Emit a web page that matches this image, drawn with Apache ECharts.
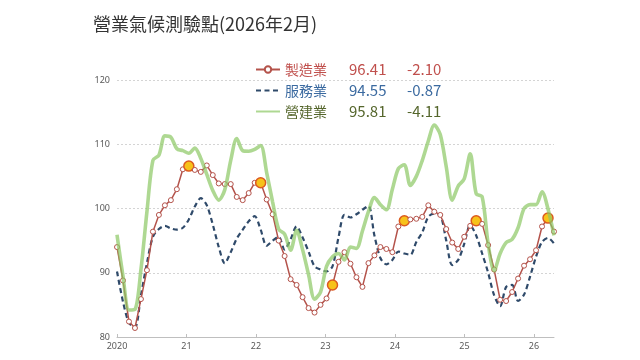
<!DOCTYPE html>
<html><head><meta charset="utf-8">
<script src="https://cdn.jsdelivr.net/npm/echarts@6/dist/echarts.min.js"></script>
<style>html,body{margin:0;padding:0;background:#fff}#c{width:640px;height:360px}</style>
</head><body><div id="c"></div>
<script>
const titleText = '營業氣候測驗點(2026年2月)';
const seriesNames = ['製造業', '服務業', '營建業'];
const latestValues = ['96.41', '94.55', '95.81'];
const monthlyChanges = ['-2.10', '-0.87', '-4.11'];
const yearLabels = ['2020', '21', '22', '23', '24', '25', '26'];
const yTicks = [80, 90, 100, 110, 120];
// monthly, Jan 2020 .. Feb 2026
const manufacturing = [
  94.0, 88.8, 82.4, 81.4, 85.9, 90.4, 96.4, 99.0, 100.5, 101.3, 103.0, 106.1,
  106.6, 106.0, 105.7, 106.7, 105.2, 103.9, 103.8, 103.8, 101.8, 101.3, 102.4, 104.0,
  104.0, 101.4, 99.1, 95.0, 92.6, 89.0, 88.1, 86.2, 84.5, 83.8, 85.0, 86.0,
  88.1, 91.7, 93.2, 91.4, 89.3, 87.8, 91.5, 92.7, 94.0, 93.7, 93.2, 97.2,
  98.1, 98.3, 98.4, 98.7, 100.5, 99.5, 99.0, 96.8, 94.7, 93.7, 95.6, 97.3,
  98.1, 97.6, 94.3, 90.5, 85.8, 85.6, 87.0, 89.1, 91.1, 92.1, 93.5, 97.2,
  98.51, 96.41
];
const services = [
  90.2, 85.5, 82.2, 81.5, 86.5, 91.5, 95.6, 96.8, 97.3, 96.9, 96.7, 97.0,
  98.3, 100.3, 101.6, 100.5, 97.5, 94.0, 91.5, 93.2, 95.3, 96.7, 98.0, 98.8,
  96.7, 94.2, 95.0, 95.6, 93.6, 95.2, 97.2, 95.5, 93.3, 91.0, 90.5, 90.2,
  91.0, 95.5, 99.0, 98.6, 99.1, 99.8, 100.4, 95.8, 92.3, 91.3, 92.0, 93.3,
  93.0, 92.8, 94.8, 96.3, 98.7, 99.2, 99.0, 95.0, 91.2, 92.0, 94.5, 97.4,
  95.8, 93.0, 90.0, 86.5, 84.8, 87.8, 88.1, 85.6, 86.6, 89.4, 92.5, 94.8,
  95.42, 94.55
];
const construction = [
  95.9, 89.5, 84.2, 84.3, 90.5, 99.5, 107.5, 108.3, 111.3, 111.1, 109.3, 109.0,
  108.6, 109.4, 107.8, 105.3, 102.8, 101.3, 102.9, 107.5, 110.9, 109.0, 108.9, 109.2,
  109.8, 105.6, 101.0, 96.8, 96.0, 93.5, 96.6, 93.6, 89.7, 85.9, 87.0, 91.0,
  92.5, 93.0, 92.0, 94.0, 93.8, 96.5, 99.5, 101.7, 100.6, 99.8, 103.0, 106.2,
  106.8, 103.6, 105.0, 107.5, 110.5, 113.0, 111.5, 106.5, 101.3, 103.5, 104.6, 108.5,
  102.3, 101.8, 94.5, 90.3, 93.0, 94.7, 95.2, 97.0, 100.0, 100.6, 100.6, 102.6,
  99.92, 95.81
];
const highlightMonths = [12, 24, 36, 48, 60, 72];

const cjk = '"Noto Sans CJK TC", "Noto Sans", sans-serif';
const txtColors = ['#c0504d', '#3b6aa0', '#55662c'];
const rich = {};
seriesNames.forEach((n, k) => {
  rich['n' + k] = { color: txtColors[k], width: 64, fontSize: 14, fontFamily: cjk, lineHeight: 14 };
  rich['v' + k] = { color: txtColors[k], width: 58, fontSize: 15, fontFamily: cjk, lineHeight: 14 };
  rich['c' + k] = { color: txtColors[k], fontSize: 15, fontFamily: cjk, lineHeight: 14 };
});

const redData = manufacturing.map((v, i) => highlightMonths.includes(i)
  ? { value: [i, v], symbolSize: 10, itemStyle: { color: '#f7c21a', borderColor: '#dc5a20', borderWidth: 1.5 } }
  : [i, v]);

const chart = echarts.init(document.getElementById('c'), null, { renderer: 'canvas' });
chart.setOption({
  animation: false,
  backgroundColor: '#fff',
  title: {
    text: titleText, left: 88, top: 10,
    textStyle: { fontSize: 18, fontWeight: 'normal', color: '#333', fontFamily: cjk }
  },
  legend: {
    orient: 'vertical', left: 250, top: 57, itemWidth: 24, itemHeight: 8, itemGap: 6,
    data: [
      { name: seriesNames[0] },
      { name: seriesNames[1], itemStyle: { opacity: 0 } },
      { name: seriesNames[2], itemStyle: { opacity: 0 } }
    ],
    formatter: name => {
      const k = seriesNames.indexOf(name);
      return `{n${k}|${name}}{v${k}|${latestValues[k]}}{c${k}|${monthlyChanges[k]}}`;
    },
    textStyle: { rich }
  },
  grid: { left: 117, right: 86, top: 80, bottom: 23 },
  xAxis: [
    { type: 'value', min: 0, max: manufacturing.length - 1, show: false },
    {
      type: 'value', min: 0, max: 437 / 69.5, interval: 1, position: 'bottom',
      axisLine: { show: true, lineStyle: { color: '#bfbfbf', width: 1 } },
      axisTick: { show: true, inside: true, length: 3, lineStyle: { color: '#bfbfbf' } },
      splitLine: { show: false },
      axisLabel: {
        show: true, fontSize: 9, color: '#595959', margin: 5, fontFamily: '"Noto Sans", sans-serif',
        showMaxLabel: false,
        formatter: v => Number.isInteger(v) ? yearLabels[v] : ''
      }
    }
  ],
  yAxis: {
    type: 'value', min: yTicks[0], max: yTicks[yTicks.length - 1], interval: 10,
    axisLine: { show: false }, axisTick: { show: false },
    splitLine: { show: true, lineStyle: { color: '#d4d4d4', type: [2, 2], width: 1 } },
    axisLabel: { fontSize: 9, color: '#595959', margin: 7, fontFamily: '"Noto Sans", sans-serif' }
  },
  series: [
    {
      name: seriesNames[0], type: 'line', xAxisIndex: 0, data: redData, z: 3,
      color: '#b4534b',
      symbol: 'circle', symbolSize: 5, showAllSymbol: true,
      itemStyle: { color: '#fff', borderColor: '#b4534b', borderWidth: 1 },
      lineStyle: { color: '#b4534b', width: 1.5 }
    },
    {
      name: seriesNames[1], type: 'line', xAxisIndex: 0, z: 2,
      data: services.map((v, i) => [i, v]),
      color: '#2f4a6a', symbol: 'none', smooth: 0.3,
      lineStyle: { color: '#2f4a6a', width: 2.2, type: [5, 3.5] }
    },
    {
      name: seriesNames[2], type: 'line', xAxisIndex: 0, z: 4,
      data: construction.map((v, i) => [i, v]),
      color: 'rgb(140,200,100)', symbol: 'none', smooth: 0.3,
      lineStyle: { color: 'rgb(140,200,100)', width: 3.6, opacity: 0.7 }
    }
  ]
});
</script></body></html>
